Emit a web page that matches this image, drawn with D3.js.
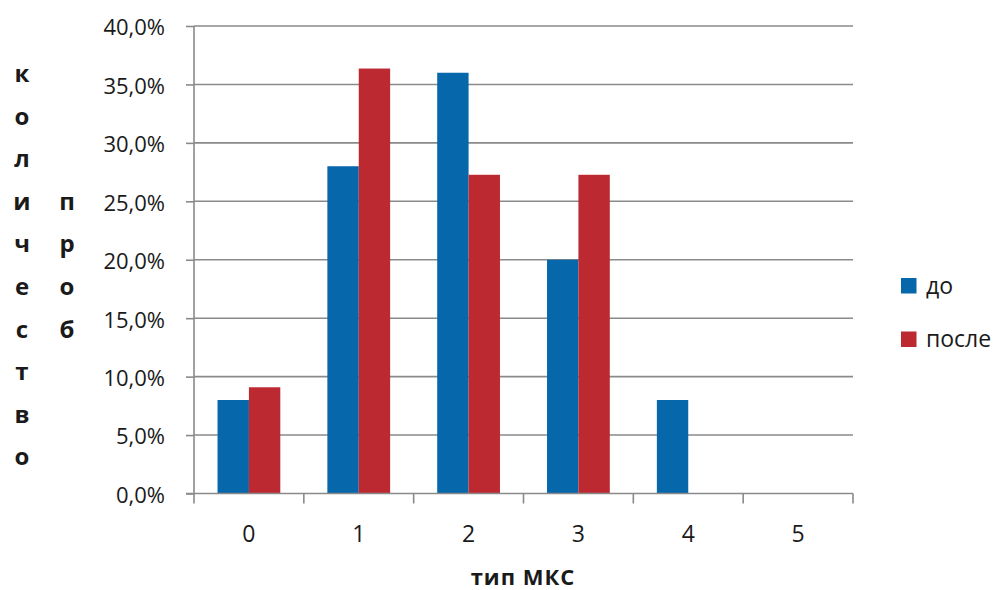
<!DOCTYPE html>
<html>
<head>
<meta charset="utf-8">
<script src="https://cdn.jsdelivr.net/npm/d3@7/dist/d3.min.js"></script>
<style>
  html, body { margin: 0; padding: 0; background: #fff; }
  svg { display: block; }
  text { font-family: "Open Sans", "Liberation Sans", sans-serif; fill: #1a1a1a; }
</style>
</head>
<body>
<svg id="chart" width="999" height="590"></svg>
<script>
// МКС types and share of samples before / after
const categories = ["0", "1", "2", "3", "4", "5"];
const seriesNames = ["до", "после"];
const before = [0.08, 0.28, 0.36, 0.20, 0.08, 0];
const after = [0.0909, 0.3636, 0.2727, 0.2727, 0, 0];
const yTicks = [0, 0.05, 0.10, 0.15, 0.20, 0.25, 0.30, 0.35, 0.40];
const yTitleCol1 = "количество";
const yTitleCol2 = "проб";
const xTitle = "тип МКС";

const colors = ["#0767ab", "#bc2931"];
const gridColor = "#8a8a8a";

const svg = d3.select("#chart");
const plot = { left: 194, right: 853, top: 26, bottom: 493.5 };

const x = d3.scaleBand().domain(categories).range([plot.left, plot.right]).paddingInner(0).paddingOuter(0);
const inner = d3.scaleBand().domain(seriesNames).range([0, x.bandwidth()]).paddingInner(0).paddingOuter(0.75);
const y = d3.scaleLinear().domain([0, 0.4]).range([plot.bottom, plot.top]);

const fmt = v => d3.format(".1f")(v * 100).replace(".", ",") + "%";

// horizontal gridlines
svg.append("g")
  .selectAll("line")
  .data(yTicks.slice(1))
  .join("line")
  .attr("x1", plot.left).attr("x2", plot.right)
  .attr("y1", d => y(d)).attr("y2", d => y(d))
  .attr("stroke", gridColor).attr("stroke-width", 1.6);

// bars
const rows = categories.map((c, i) => ({ c, vals: [before[i], after[i]] }));
svg.append("g")
  .selectAll("g")
  .data(rows)
  .join("g")
  .attr("transform", d => `translate(${x(d.c)},0)`)
  .selectAll("rect")
  .data(d => d.vals.map((v, j) => ({ v, s: seriesNames[j], j })))
  .join("rect")
  .attr("x", d => inner(d.s))
  .attr("width", inner.bandwidth())
  .attr("y", d => y(d.v))
  .attr("height", d => plot.bottom - y(d.v))
  .attr("fill", d => colors[d.j]);

// y axis
const yAxis = d3.axisLeft(y).tickValues(yTicks).tickFormat(fmt).tickSize(8).tickPadding(21);
const gy = svg.append("g").attr("transform", `translate(${plot.left},0)`).call(yAxis);
gy.select(".domain").attr("stroke", gridColor).attr("stroke-width", 1.6)
  .attr("d", `M0,${plot.top}V${plot.bottom}`);
gy.selectAll(".tick line").attr("stroke", gridColor).attr("stroke-width", 1.6);
gy.selectAll(".tick text").attr("font-size", 22).attr("fill", "#1a1a1a").attr("dy", "0.4em")
  .attr("font-family", "'Open Sans', 'Liberation Sans', sans-serif");

// x axis with ticks at category boundaries
const gx = svg.append("g").attr("transform", `translate(0,${plot.bottom})`);
gx.append("line").attr("x1", plot.left - 8).attr("x2", plot.right)
  .attr("stroke", gridColor).attr("stroke-width", 1.6);
const bounds = categories.map(c => x(c)).concat([plot.right]);
gx.selectAll(".bt").data(bounds).join("line").attr("class", "bt")
  .attr("x1", d => d).attr("x2", d => d).attr("y1", 0).attr("y2", 10)
  .attr("stroke", gridColor).attr("stroke-width", 1.6);
gx.selectAll(".lbl").data(categories).join("text").attr("class", "lbl")
  .attr("x", d => x(d) + x.bandwidth() / 2)
  .attr("y", 48)
  .attr("text-anchor", "middle")
  .attr("font-size", 23)
  .text(d => d);

// x title
svg.append("text")
  .attr("x", 523).attr("y", 585)
  .attr("text-anchor", "middle")
  .attr("font-size", 22).attr("font-weight", "bold")
  .attr("letter-spacing", 1)
  .text(xTitle);

// stacked y title letters, two columns
const step = 42.6;
svg.append("g").selectAll("text")
  .data(Array.from(yTitleCol1))
  .join("text")
  .attr("x", 22).attr("y", (d, i) => 82 + i * step)
  .attr("text-anchor", "middle")
  .attr("font-size", 24).attr("font-weight", "bold")
  .text(d => d);
svg.append("g").selectAll("text")
  .data(Array.from(yTitleCol2))
  .join("text")
  .attr("x", 67).attr("y", (d, i) => 82 + (i + 3) * step)
  .attr("text-anchor", "middle")
  .attr("font-size", 24).attr("font-weight", "bold")
  .text(d => d);

// legend
const legend = svg.append("g").selectAll("g")
  .data(seriesNames)
  .join("g")
  .attr("transform", (d, i) => `translate(901,${278 + i * 53.5})`);
legend.append("rect").attr("width", 15.5).attr("height", 15.5).attr("fill", (d, i) => colors[i]);
legend.append("text").attr("x", 25).attr("y", 15.5).attr("font-size", 23).text(d => d);
</script>
</body>
</html>
